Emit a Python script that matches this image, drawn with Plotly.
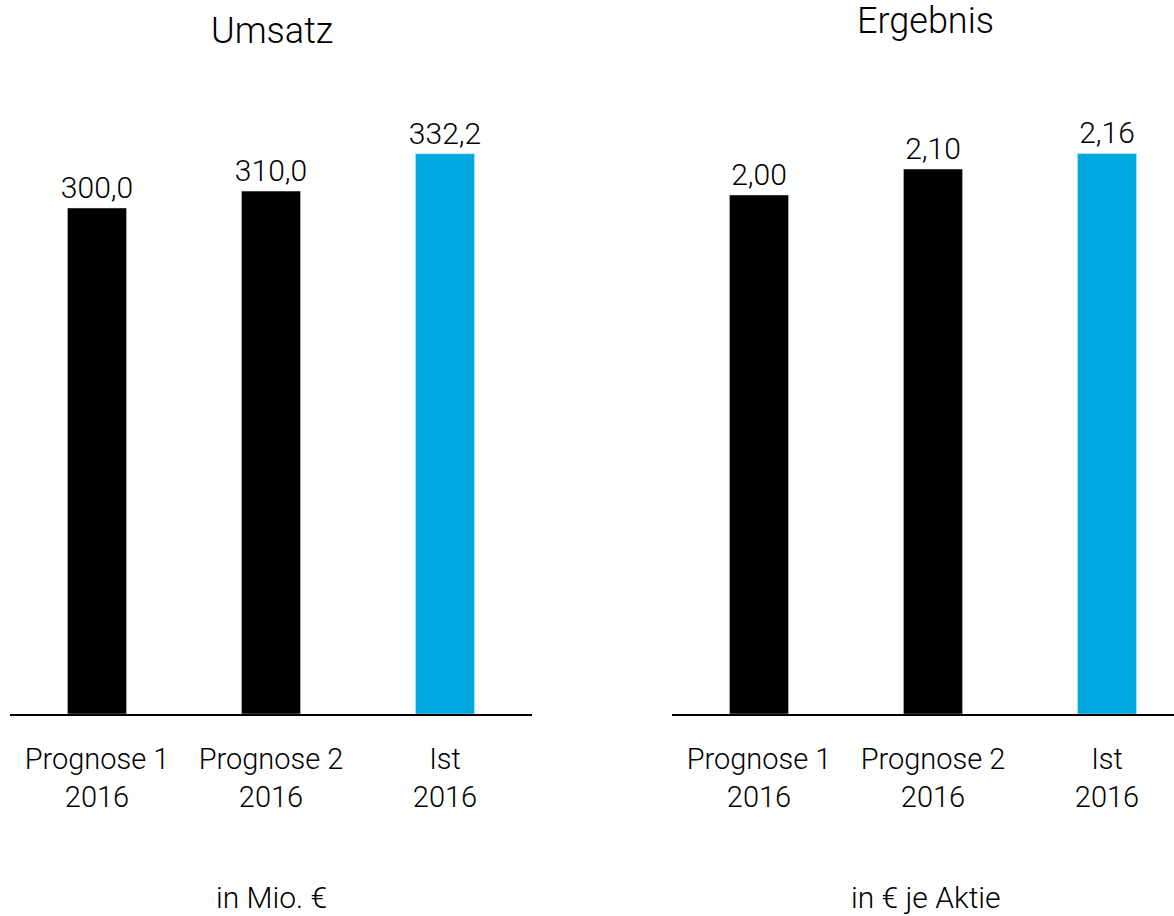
import plotly.graph_objects as go

W = 1174
H = 916

categories = ["Prognose 1<br>2016", "Prognose 2<br>2016", "Ist<br>2016"]
umsatz = [300.0, 310.0, 332.2]
ergebnis = [2.00, 2.10, 2.16]
bar_colors = ["#000000", "#000000", "#00A8E0"]

FONT = "Roboto"
WEIGHT = 300

fig = go.Figure()

fig.add_trace(go.Bar(x=categories, y=umsatz, marker_color=bar_colors, width=0.34,
                     texttemplate="%{y:.1f}", textposition="outside", constraintext="none",
                     cliponaxis=False, textfont=dict(size=30, color="black", family=FONT, weight=WEIGHT),
                     hoverinfo="skip", xaxis="x", yaxis="y"))
fig.add_trace(go.Bar(x=categories, y=ergebnis, marker_color=bar_colors, width=0.34,
                     texttemplate="%{y:.2f}", textposition="outside", constraintext="none",
                     cliponaxis=False, textfont=dict(size=30, color="black", family=FONT, weight=WEIGHT),
                     hoverinfo="skip", xaxis="x2", yaxis="y2"))

ydom = [1 - 714 / H, 1 - 100 / H]
xstyle = dict(showline=True, linecolor="black", linewidth=2, showgrid=False, zeroline=False,
              ticks="outside", ticklen=18, tickcolor="rgba(0,0,0,0)",
              tickfont=dict(size=29, color="black", family=FONT, weight=WEIGHT), fixedrange=True)
ystyle = dict(showline=False, showgrid=False, zeroline=False, showticklabels=False,
              ticks="", fixedrange=True, domain=ydom)

fig.update_layout(
    width=W, height=H,
    margin=dict(l=0, r=0, t=0, b=0),
    paper_bgcolor="white", plot_bgcolor="white",
    showlegend=False,
    separators=",.",
    font=dict(family=FONT, color="black"),
    xaxis=dict(domain=[10 / W, 532 / W], range=[-0.5, 2.5], anchor="y", **xstyle),
    yaxis=dict(range=[0, 364], anchor="x", **ystyle),
    xaxis2=dict(domain=[672 / W, 1], range=[-0.5, 2.385], anchor="y2", **xstyle),
    yaxis2=dict(range=[0, 2.366], anchor="x2", **ystyle),
)

titles = [("Umsatz", 272, 31), ("Ergebnis", 926, 21)]
for txt, px_x, px_y in titles:
    fig.add_annotation(text=txt, xref="paper", yref="paper", x=px_x / W, y=1 - px_y / H,
                       xanchor="center", yanchor="middle", showarrow=False,
                       font=dict(size=36, color="black", family=FONT, weight=WEIGHT))

units = [("in Mio. €", 271, 897), ("in € je Aktie", 926, 897)]
for txt, px_x, px_y in units:
    fig.add_annotation(text=txt, xref="paper", yref="paper", x=px_x / W, y=1 - px_y / H,
                       xanchor="center", yanchor="middle", showarrow=False,
                       font=dict(size=30, color="black", family=FONT, weight=WEIGHT))

# page has an 8px default body margin, drop it so the figure sits flush
fig.write_html("out.html", config={"displayModeBar": False},
               post_script="document.body.style.margin='0px';")
